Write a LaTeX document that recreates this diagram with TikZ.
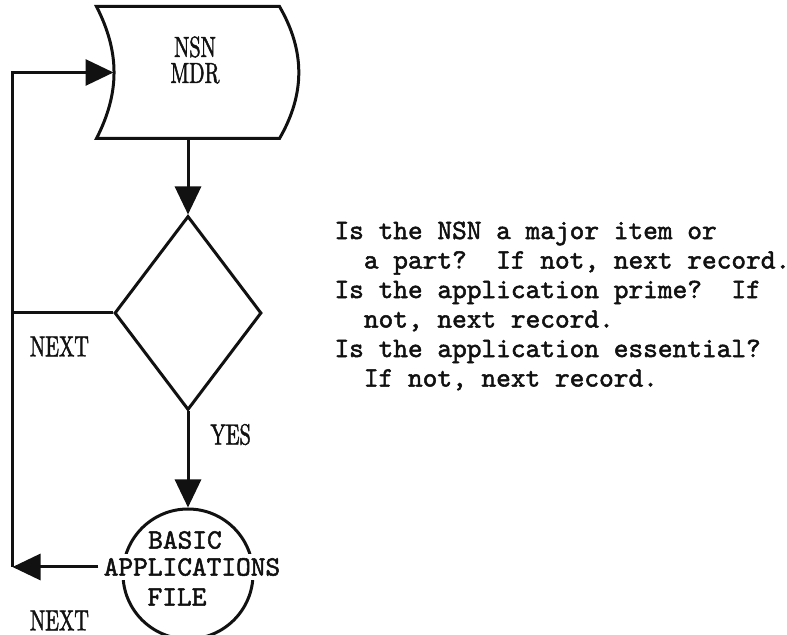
\documentclass[tikz,border=0pt]{standalone}
\usepackage{fontspec}
\newfontfamily\typefont{lmmono10-regular.otf}[FakeBold=1.8]
\newfontfamily\labelfont{lmroman10-regular.otf}[FakeStretch=0.7, FakeBold=1.5]
\usepackage{xcolor}
\definecolor{ink}{RGB}{17, 17, 17}
\usepackage{tikz}
\usetikzlibrary{shapes.geometric, arrows.meta, positioning}
\frenchspacing

\begin{document}
\begin{tikzpicture}[
        node distance=38pt,
        line width=1.5pt,
        store/.style={
            minimum width=90pt,
            minimum height=64.5pt,
            inner sep=0
        },
        decision/.style={
            diamond,
            draw=ink,
            minimum width=73.5pt,
            minimum height=97pt,
            inner sep=0
        },
        filecircle/.style={
            circle,
            draw=ink,
            minimum size=65pt,
            inner sep=0
        },
        typed/.style={font=\typefont\fontsize{14}{14.75}\selectfont, text=ink, inner sep=0, align=left},
        tag/.style={font=\labelfont\fontsize{14.5}{13}\selectfont, text=ink, inner sep=0, align=center},
        arrow/.style={-{Triangle[length=14pt, width=13pt]}, color=ink},
        line/.style={color=ink}
    ]
        \useasboundingbox (0,0) rectangle (393.5pt,-317.5pt);

        \node[store] (mdr) at (94pt,-36.25pt) {};
        \draw[line] (mdr.north west) -- (mdr.north east) to[bend left=30] (mdr.south east)
            -- (mdr.south west) to[bend right=27] (mdr.north west) -- (mdr.north east);
        \node[tag] (mdrtext) at ([xshift=3.5pt, yshift=6.25pt]mdr.center) {NSN\\MDR};
        \node[decision, below=of mdr] (check) {};
        \node[filecircle, below=48pt of check] (bafile) {};
        \node[typed, fill=white, inner sep=2pt] (apps) at ([xshift=2pt, yshift=3.5pt]bafile.center) {APPLICATIONS};
        \node[typed] (basic) at ([xshift=-3.5pt, yshift=13.5pt]apps.center) {BASIC};
        \node[typed] (filetxt) at ([xshift=-7.5pt, yshift=-15pt]apps.center) {FILE};
        \node[typed, right=35pt of check, yshift=3.5pt] (rules) {Is the NSN a major item or\\~~a part?~~If not, next record.\\Is the application prime?~~If\\~~not, next record.\\Is the application essential?\\~~If not, next record.};

        \coordinate[left=42pt of mdr.west] (looptop);
        \coordinate[right=8.5pt of mdr.west] (mdrin);
        \coordinate (loopmid) at (check.west -| looptop);
        \coordinate (loopbot) at (apps.west -| looptop);

        \node[tag, below right=11pt and 8pt of loopmid] (nextup) {NEXT};
        \node[tag, below right=5.5pt and 10.5pt of check.south] (yes) {YES};
        \node[tag, below right=21pt and 8pt of loopbot] (nextdown) {NEXT};

        \draw[arrow] (mdr.south) -- (check.north);
        \draw[arrow] (check.south) -- (bafile.north);
        \draw[line] (check.west) -- (loopmid);
        \draw[arrow] (apps.west) -- (loopbot);
        \draw[arrow] (loopbot) |- (mdrin);

    \end{tikzpicture}
\end{document}
